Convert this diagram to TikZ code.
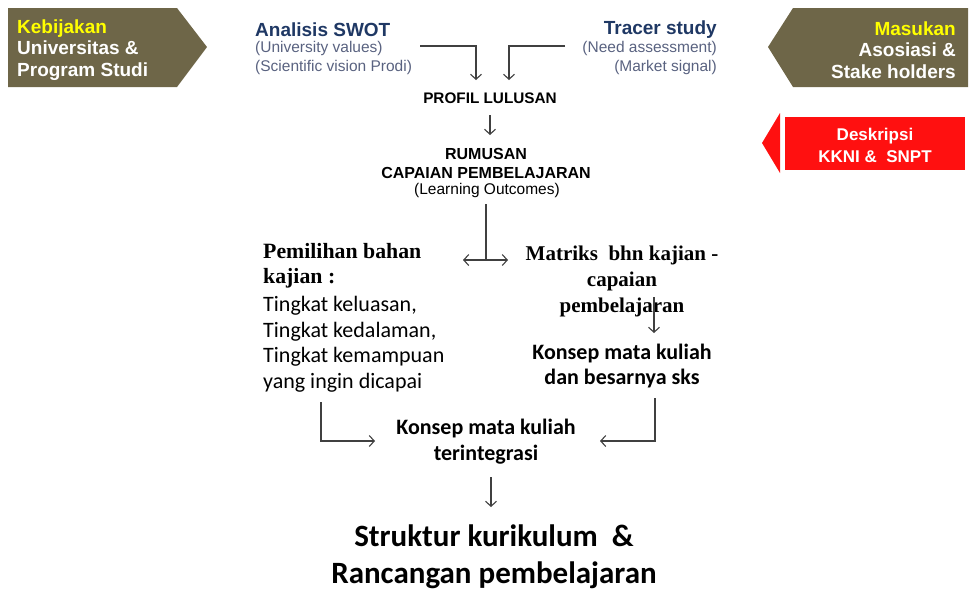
\documentclass[tikz,border=0pt]{standalone}
\usepackage{fontspec}
\setmainfont{Liberation Sans}
\newfontfamily\calfont{Carlito}
\newfontfamily\serffont{Liberation Serif}
\usetikzlibrary{arrows.meta}
\definecolor{boxolive}{RGB}{110,102,72}
\definecolor{hiyellow}{RGB}{255,255,0}
\definecolor{boxred}{RGB}{255,16,16}
\definecolor{titleblue}{RGB}{31,56,100}
\definecolor{subgray}{RGB}{89,98,128}
\definecolor{linegray}{RGB}{64,64,64}
\newcommand{\fs}[2]{\fontsize{#1}{#2}\selectfont}

\begin{document}
\begin{tikzpicture}[x=1pt, y=-1pt,
      txt/.style={inner sep=0pt, text=black},
      boxtxt/.style={inner sep=0pt, text=white, font=\fs{19}{21.5}\bfseries},
      title/.style={inner sep=0pt, text=titleblue, font=\fs{19}{21}\bfseries},
      sub/.style={inner sep=0pt, text=subgray, font=\fs{15.5}{19}},
      arr/.style={-{Straight Barb[length=5pt,width=11pt]}, line width=1.1pt, draw=linegray},
      plain/.style={line width=1.1pt, draw=linegray}
    ]
    \useasboundingbox (0,0) rectangle (970,590);
    % side boxes
    \fill[boxolive] (8,8) -- (177,8) -- (207,47) -- (177,87) -- (8,87) -- cycle;
    \fill[boxolive] (793,8) -- (968,8) -- (968,87) -- (793,87) -- (768,47) -- cycle;
    \fill[boxred] (785,117) rectangle (965,170);
    \fill[boxred] (762,143) -- (780,113) -- (780,173) -- cycle;
    \node[boxtxt, anchor=west, align=left] (kebijakan) at (17,50)
      {\textcolor{hiyellow}{Kebijakan}\\Universitas \&\\Program Studi};
    \node[boxtxt, anchor=east, align=right] (masukan) at (956,50)
      {\textcolor{hiyellow}{Masukan}\\Asosiasi \&\\Stake holders};
    \node[boxtxt, font=\fs{17}{22}\bfseries, align=center] (kkni) at (875,145)
      {Deskripsi\\KKNI \&\ \ SNPT};
    % inputs
    \node[title, anchor=west] (swot) at (255,30) {Analisis SWOT};
    \node[sub, anchor=west, align=left] (swotsub) at (255,57.5)
      {(University values)\\(Scientific vision Prodi)};
    \node[title, anchor=east] (tracer) at (717,30) {Tracer study};
    \node[sub, anchor=east, align=right] (tracersub) at (717,57.5)
      {(Need assessment)\\(Market signal)};
    % main flow
    \node[txt, font=\fs{15.3}{17}\bfseries] (profil) at (490,98) {PROFIL LULUSAN};
    \node[txt, align=center, font=\fs{16}{19}\bfseries] (rumusan) at (486,163)
      {RUMUSAN\\CAPAIAN PEMBELAJARAN};
    \node[txt, font=\fs{15.5}{18}] (learning) at (487,190) {(Learning Outcomes)};
    \node[txt, anchor=west, align=left, font=\serffont\fs{21.8}{25}\bfseries] (pemilihan) at (263,266)
      {Pemilihan bahan\\kajian :};
    \node[txt, anchor=west, align=left, font=\calfont\fs{22}{25.5}] (tingkat) at (263,344)
      {Tingkat keluasan,\\Tingkat kedalaman,\\Tingkat kemampuan\\yang ingin dicapai};
    \node[txt, align=center, font=\serffont\fs{21}{26}\bfseries] (matriks) at (622,281)
      {Matriks\ \ bhn kajian -\\capaian\\pembelajaran};
    \node[txt, align=center, font=\calfont\fs{22}{25}\bfseries] (konsepsks) at (622,366)
      {Konsep mata kuliah\\dan besarnya sks};
    \node[txt, align=center, font=\calfont\fs{22}{26}\bfseries] (konsepint) at (486,442)
      {Konsep mata kuliah\\terintegrasi};
    \node[txt, align=center, font=\calfont\fs{31}{37}\bfseries] (struktur) at (494,557)
      {Struktur kurikulum\ \ \&\\Rancangan pembelajaran};
    % connectors
    \coordinate (swotout) at (420,46);
    \coordinate (tracerout) at (565,46);
    \coordinate (profil-l) at (476,80);
    \coordinate (profil-r) at (509,80);
    \draw[arr] (swotout) -| (profil-l);
    \draw[arr] (tracerout) -| (profil-r);
    \coordinate (profil-out) at (490,115);
    \coordinate (rumusan-in) at (490,135);
    \draw[arr] (profil-out) -- (rumusan-in);
    \coordinate (lo-out) at (486,204);
    \coordinate (split) at (486,260);
    \coordinate (pm-in) at (463,260);
    \coordinate (mk-in) at (508,260);
    \draw[plain] (lo-out) -- (split);
    \draw[arr] (split) -- (pm-in);
    \draw[arr] (split) -- (mk-in);
    \coordinate (mk-out) at (654,297);
    \coordinate (ks-in) at (654,333);
    \draw[arr] (mk-out) -- (ks-in);
    \coordinate (pm-out) at (321,402);
    \coordinate (ki-in-l) at (375,441);
    \draw[arr] (pm-out) |- (ki-in-l);
    \coordinate (ks-out) at (655,398);
    \coordinate (ki-in-r) at (600,441);
    \draw[arr] (ks-out) |- (ki-in-r);
    \coordinate (ki-out) at (491,477);
    \coordinate (st-in) at (491,507);
    \draw[arr] (ki-out) -- (st-in);
\end{tikzpicture}
\end{document}
